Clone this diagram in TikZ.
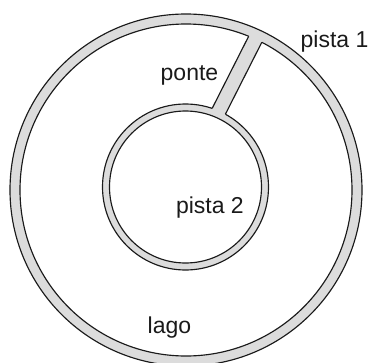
\documentclass[tikz,border=0pt]{standalone}
\usepackage{fontspec}
\setmainfont{Liberation Sans}
\definecolor{ringgray}{HTML}{DCDCDC}
\definecolor{ink}{HTML}{1A1A1A}
\tikzset{
  edge/.style={draw=ink, line width=1.15pt},
  ringfill/.style={fill=ringgray},
  lbl/.style={anchor=base west, inner sep=0pt, font=\fontsize{23}{27}\selectfont, text=ink}
}
\begin{document}
\begin{tikzpicture}[x=1pt,y=-1pt]
\useasboundingbox (0,0) rectangle (372,362);
\clip (0,0) rectangle (372,362);
\fill[white] (0,0) rectangle (372,362);
% centres
\coordinate (O1) at (186,190);
\coordinate (O2) at (185.5,187);
% outer ring
\fill[ringfill, even odd rule] (O1) circle[radius=176] (O1) circle[radius=166];
% inner ring
\fill[ringfill, even odd rule] (O2) circle[radius=83] (O2) circle[radius=76];
% ring outlines
\draw[edge] (O1) circle[radius=176];
\draw[edge] (O1) circle[radius=166];
\draw[edge] (O2) circle[radius=83];
\draw[edge] (O2) circle[radius=76];
% bridge fill (covers the ring lines where it joins)
\coordinate (bl1) at (209.9,112.9);
\coordinate (bl2) at (250.98,31.67);
\coordinate (br2) at (264.3,37.4);
\coordinate (br1) at (223.2,118.6);
\fill[ringfill] (bl1) -- (bl2) -- (br2) -- (br1) -- cycle;
% bridge edges
\coordinate (la) at (212.15,108.4);
\coordinate (lb) at (248.66,36.27);
\coordinate (ra) at (225.4,114.2);
\coordinate (rb) at (261.8,42.3);
\draw[edge] (la) -- (lb);
\draw[edge] (ra) -- (rb);
% labels
\node[lbl] (p1) at (300.5,47.7) {pista 1};
\node[lbl] (pt) at (160.5,80.7) {ponte};
\node[lbl] (p2) at (175.8,213.3) {pista 2};
\node[lbl] (lg) at (147.5,333) {lago};
\end{tikzpicture}
\end{document}
